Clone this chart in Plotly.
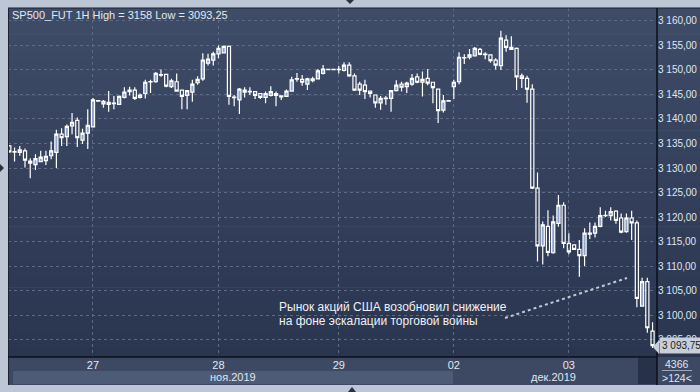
import plotly.graph_objects as go

# ---------------- data ----------------
candle_index = list(range(124))
open_ = [3134.5, 3133.35, 3133.2, 3133.5, 3131.4, 3130.7, 3131.3, 3131.5, 3132.5, 3133.2,
         3136.9, 3136.4, 3138.6, 3139.7, 3135.7, 3137.1, 3138.4, 3143.75, 3143.6, 3143.4,
         3143.25, 3143.0, 3144.4, 3145.6, 3145.9, 3144.4, 3145.2, 3147.65, 3147.6, 3149.05,
         3149.1, 3146.6, 3147.6, 3145.9, 3144.8, 3145.5, 3147.4, 3148.2, 3151.4, 3152.0,
         3153.3, 3153.5, 3154.8, 3144.45, 3143.9, 3145.5, 3145.65, 3145.6, 3145.2, 3144.4,
         3144.8, 3145.2, 3144.7, 3144.6, 3145.7, 3148.25, 3148.1, 3147.1, 3147.8, 3148.2,
         3149.3, 3150.15, 3150.15, 3150.15, 3149.9, 3151.0, 3148.8, 3147.1, 3146.9, 3145.7,
         3144.9, 3143.3, 3144.25, 3144.2, 3145.8, 3147.1, 3146.6, 3147.1, 3148.6, 3147.5,
         3148.3, 3147.5, 3146.1, 3141.8, 3143.75, 3146.6, 3147.6, 3152.55, 3152.6, 3152.9,
         3154.2, 3153.25, 3153.1, 3152.0, 3150.9, 3156.1, 3154.6, 3154.4, 3148.8, 3148.3,
         3146.1, 3125.9, 3114.1, 3118.1, 3112.7, 3118.7, 3122.4, 3114.6, 3114.3, 3113.4,
         3112.1, 3116.7, 3116.7, 3118.1, 3120.35, 3120.3, 3121.2, 3119.8, 3117.0, 3119.8,
         3118.8, 3101.8, 3106.8, 3096.7]
high = [3134.7, 3134.2, 3134.5, 3134.0, 3132.0, 3132.8, 3133.5, 3133.5, 3135.4, 3137.8,
        3138.1, 3138.9, 3141.2, 3140.3, 3138.0, 3142.0, 3144.3, 3143.8, 3143.9, 3145.7,
        3144.7, 3144.8, 3146.5, 3146.6, 3146.5, 3145.2, 3148.0, 3148.0, 3149.6, 3150.1,
        3149.1, 3148.2, 3149.3, 3145.9, 3145.9, 3148.0, 3148.7, 3153.4, 3153.3, 3153.7,
        3155.0, 3155.0, 3155.0, 3144.9, 3146.3, 3146.5, 3146.5, 3145.6, 3145.2, 3145.6,
        3146.7, 3145.6, 3144.7, 3146.0, 3148.6, 3149.4, 3149.0, 3148.4, 3148.6, 3150.2,
        3151.0, 3150.2, 3150.2, 3150.8, 3151.6, 3151.6, 3149.3, 3147.6, 3148.0, 3145.7,
        3144.9, 3144.7, 3144.7, 3145.9, 3147.9, 3147.6, 3147.6, 3149.2, 3149.3, 3149.7,
        3150.2, 3147.6, 3146.1, 3144.9, 3143.8, 3148.0, 3153.6, 3153.2, 3154.3, 3154.7,
        3154.5, 3153.6, 3153.1, 3152.4, 3158.0, 3157.1, 3156.9, 3154.6, 3149.3, 3148.8,
        3147.1, 3129.1, 3119.1, 3121.4, 3120.3, 3124.5, 3123.0, 3116.7, 3114.4, 3115.3,
        3117.7, 3118.9, 3118.9, 3122.0, 3121.3, 3122.0, 3121.4, 3120.7, 3120.7, 3121.3,
        3119.3, 3107.6, 3107.6, 3098.5]
low = [3133.1, 3131.3, 3132.5, 3130.1, 3127.9, 3129.6, 3131.2, 3130.6, 3131.8, 3130.0,
       3134.5, 3134.5, 3136.9, 3134.3, 3134.9, 3133.9, 3138.3, 3143.6, 3142.3, 3141.5,
       3142.0, 3142.9, 3144.2, 3144.8, 3143.9, 3144.2, 3144.2, 3145.3, 3147.4, 3148.6,
       3146.5, 3146.3, 3145.6, 3142.0, 3142.0, 3143.5, 3147.0, 3147.8, 3150.9, 3150.9,
       3152.4, 3153.4, 3142.9, 3142.6, 3141.0, 3144.4, 3144.9, 3144.1, 3144.1, 3143.2,
       3144.6, 3142.6, 3143.9, 3144.5, 3145.6, 3147.6, 3146.8, 3145.9, 3147.5, 3148.1,
       3149.1, 3150.0, 3150.0, 3149.3, 3149.7, 3148.6, 3145.7, 3144.9, 3144.1, 3144.4,
       3142.3, 3141.9, 3142.9, 3141.5, 3145.6, 3145.6, 3145.3, 3146.8, 3147.3, 3144.6,
       3146.9, 3143.2, 3139.2, 3141.3, 3143.6, 3144.1, 3147.1, 3151.2, 3152.2, 3152.8,
       3153.0, 3152.2, 3151.5, 3150.1, 3150.0, 3153.7, 3154.2, 3145.9, 3146.3, 3143.3,
       3125.7, 3110.9, 3110.3, 3112.0, 3112.5, 3118.0, 3113.6, 3112.4, 3113.3, 3107.8,
       3110.0, 3115.5, 3115.8, 3117.9, 3120.0, 3119.3, 3118.6, 3116.7, 3116.8, 3115.3,
       3101.6, 3101.8, 3096.4, 3093.25]
close = [3133.3, 3133.25, 3133.7, 3131.6, 3131.0, 3131.9, 3132.2, 3132.4, 3133.5, 3136.9,
         3136.2, 3138.5, 3139.3, 3136.2, 3137.1, 3138.7, 3143.9, 3143.65, 3143.1, 3143.0,
         3143.15, 3144.6, 3145.5, 3145.9, 3144.2, 3144.9, 3147.5, 3147.55, 3149.3, 3148.95,
         3146.7, 3147.8, 3145.7, 3144.6, 3145.8, 3147.1, 3148.1, 3152.0, 3152.2, 3153.3,
         3154.4, 3154.8, 3144.6, 3144.35, 3146.1, 3145.9, 3145.55, 3144.8, 3144.4, 3145.2,
         3145.6, 3144.8, 3144.5, 3145.7, 3148.0, 3148.15, 3147.5, 3148.2, 3148.2, 3149.8,
         3150.2, 3150.05, 3150.05, 3150.05, 3151.0, 3148.8, 3145.9, 3145.9, 3145.6, 3145.2,
         3143.3, 3144.2, 3144.15, 3145.8, 3146.9, 3146.5, 3147.3, 3148.3, 3147.5, 3148.1,
         3147.3, 3146.4, 3141.7, 3143.7, 3143.65, 3147.5, 3152.6, 3152.45, 3153.1, 3154.4,
         3153.2, 3153.15, 3151.9, 3151.0, 3156.5, 3154.6, 3154.2, 3148.6, 3148.3, 3146.1,
         3125.9, 3114.1, 3118.4, 3112.8, 3119.0, 3122.4, 3114.6, 3112.9, 3113.4, 3112.1,
         3116.7, 3116.5, 3118.1, 3120.3, 3120.25, 3121.1, 3119.3, 3116.9, 3119.8, 3118.8,
         3103.4, 3106.8, 3097.4, 3093.75]

day_tick_index = [16, 40, 63, 85, 107]
day_tick_labels = ["27", "28", "29", "02", "03"]
price_ticks = [3095, 3100, 3105, 3110, 3115, 3120, 3125, 3130, 3135, 3140, 3145, 3150, 3155, 3160]
price_tick_labels = ["3 095,00", "3 100,00", "3 105,00", "3 110,00", "3 115,00", "3 120,00",
                     "3 125,00", "3 130,00", "3 135,00", "3 140,00", "3 145,00", "3 150,00",
                     "3 155,00", "3 160,00"]
month_labels = ["ноя.2019", "дек.2019"]
title_text = "SP500_FUT 1H High = 3158 Low = 3093,25"
note_lines = ["Рынок акций США возобновил снижение", "на фоне эскалации торговой войны"]
last_price_label = "3 093,75"
last_price = 3093.75

# ---------------- layout geometry (pixels) ----------------
W, H = 700, 392
L, R, T, B = 8, 43, 8, 35
PW, PH = W - L - R, H - T - B


def xp(px):
    return (px - L) / PW


def yp(py):
    return (H - B - py) / PH


def hexmix(c1, c2, t):
    a = [int(c1[i:i + 2], 16) for i in (1, 3, 5)]
    b = [int(c2[i:i + 2], 16) for i in (1, 3, 5)]
    return "#%02x%02x%02x" % tuple(round(a[k] + (b[k] - a[k]) * t) for k in range(3))


shapes = []
# gradient background of plot + right scale
n = 40
top_c, bot_c = "#3f4c67", "#2a3550"
for i in range(n):
    y0 = T + (PH) * i / n
    y1 = T + (PH) * (i + 1) / n + 0.6
    shapes.append(dict(type="rect", xref="paper", yref="paper", x0=xp(L), x1=xp(W),
                       y0=yp(y1), y1=yp(y0), fillcolor=hexmix(top_c, bot_c, i / (n - 1)),
                       line_width=0, layer="below"))
# x-axis panel
shapes.append(dict(type="rect", xref="paper", yref="paper", x0=xp(L), x1=xp(W), y0=yp(385), y1=yp(357),
                   fillcolor="#3d4962", line_width=0, layer="below"))
shapes.append(dict(type="rect", xref="paper", yref="paper", x0=xp(13), x1=xp(453), y0=yp(384), y1=yp(371),
                   fillcolor="#4e5b76", line_width=0, layer="below"))
shapes.append(dict(type="rect", xref="paper", yref="paper", x0=xp(638), x1=xp(657), y0=yp(384), y1=yp(358),
                   fillcolor="#27314a", line_width=0, layer="below"))
# dark borders
shapes.append(dict(type="line", xref="paper", yref="paper", x0=xp(L), x1=xp(W), y0=yp(8), y1=yp(8),
                   line=dict(color="#1c2233", width=1)))
shapes.append(dict(type="line", xref="paper", yref="paper", x0=xp(8.5), x1=xp(8.5), y0=yp(385), y1=yp(8),
                   line=dict(color="#1c2233", width=1)))
shapes.append(dict(type="line", xref="paper", yref="paper", x0=xp(L), x1=xp(657), y0=yp(357), y1=yp(357),
                   line=dict(color="#0c0f18", width=1.5)))
shapes.append(dict(type="line", xref="paper", yref="paper", x0=xp(657), x1=xp(657), y0=yp(385), y1=yp(8),
                   line=dict(color="#0c0f18", width=1.5)))
# separator in bottom-right counter
shapes.append(dict(type="line", xref="paper", yref="paper", x0=xp(662), x1=xp(692), y0=yp(370.5), y1=yp(370.5),
                   line=dict(color="#9aa6ba", width=1)))
# dotted pointer line
shapes.append(dict(type="line", xref="paper", yref="paper", x0=xp(505), x1=xp(627), y0=yp(318), y1=yp(278),
                   line=dict(color="#c3c8d2", width=2, dash="dot")))
# last price tag arrow
shapes.append(dict(type="path", xref="paper", yref="paper",
                   path="M {} {} L {} {} L {} {} Z".format(xp(653), yp(347), xp(659), yp(340), xp(659), yp(354)),
                   fillcolor="#c9ced7", line_width=0))
# frame decoration triangles
shapes.append(dict(type="path", xref="paper", yref="paper",
                   path="M {} {} L {} {} L {} {} Z".format(xp(346), yp(0), xp(354), yp(0), xp(350), yp(4)),
                   fillcolor="#2a303f", line_width=0))
shapes.append(dict(type="path", xref="paper", yref="paper",
                   path="M {} {} L {} {} L {} {} Z".format(xp(348), yp(392), xp(356), yp(392), xp(352), yp(387)),
                   fillcolor="#2a303f", line_width=0))
shapes.append(dict(type="path", xref="paper", yref="paper",
                   path="M {} {} L {} {} L {} {} Z".format(xp(0), yp(164), xp(0), yp(172), xp(4), yp(168)),
                   fillcolor="#2a303f", line_width=0))

fig = go.Figure()
fig.add_trace(go.Candlestick(
    x=candle_index, open=open_, high=high, low=low, close=close,
    increasing=dict(line=dict(color="#ffffff", width=1.2), fillcolor="#8fa5cf"),
    decreasing=dict(line=dict(color="#ffffff", width=1.2), fillcolor="rgba(0,0,0,0)"),
    whiskerwidth=0, showlegend=False, hoverinfo="skip"))

font_main = "Liberation Sans, Arial, sans-serif"
annotations = [
    dict(text=title_text, xref="paper", yref="paper", x=xp(10), y=yp(15), xanchor="left", yanchor="middle",
         showarrow=False, font=dict(family=font_main, size=11, color="#e3e8f1")),
    dict(text=note_lines[0], xref="paper", yref="paper", x=xp(277), y=yp(307), xanchor="left", yanchor="middle",
         showarrow=False, font=dict(family=font_main, size=12, color="#eef1f6")),
    dict(text=note_lines[1], xref="paper", yref="paper", x=xp(277), y=yp(321), xanchor="left", yanchor="middle",
         showarrow=False, font=dict(family=font_main, size=12, color="#eef1f6")),
    dict(text=month_labels[0], xref="paper", yref="paper", x=xp(233), y=yp(377), xanchor="center", yanchor="middle",
         showarrow=False, font=dict(family=font_main, size=11, color="#dfe6f1")),
    dict(text=month_labels[1], xref="paper", yref="paper", x=xp(553), y=yp(377), xanchor="center", yanchor="middle",
         showarrow=False, font=dict(family=font_main, size=11, color="#dfe6f1")),
    dict(text="4366", xref="paper", yref="paper", x=xp(677), y=yp(363.5), xanchor="center", yanchor="middle",
         showarrow=False, font=dict(family=font_main, size=10.5, color="#dfe6f1")),
    dict(text="&gt;124&lt;", xref="paper", yref="paper", x=xp(677), y=yp(377.5), xanchor="center", yanchor="middle",
         showarrow=False, font=dict(family=font_main, size=10.5, color="#dfe6f1")),
    dict(text=last_price_label, xref="paper", yref="y", x=xp(658.5), y=last_price, xanchor="left", yanchor="middle",
         showarrow=False, bgcolor="#c9ced7", borderpad=2,
         font=dict(family=font_main, size=10, color="#1a1d24")),
]

fig.update_layout(
    width=W, height=H, margin=dict(l=L, r=R, t=T, b=B, autoexpand=False),
    paper_bgcolor="#bcc6d4", plot_bgcolor="rgba(0,0,0,0)", boxgap=0.15,
    shapes=shapes, annotations=annotations, showlegend=False,
    xaxis=dict(range=[-0.25, 123.85], rangeslider=dict(visible=False), tickvals=day_tick_index,
               ticktext=day_tick_labels, showgrid=True, gridcolor="#5d6b86", griddash="3px,3px", gridwidth=1,
               zeroline=False, showline=False, ticks="", automargin=False,
               tickfont=dict(family=font_main, size=11, color="#e3e8f1")),
    yaxis=dict(range=[3091.43, 3162.65], side="right", tickvals=price_ticks, ticktext=price_tick_labels,
               showgrid=True, gridcolor="#5d6b86", griddash="3px,3px", gridwidth=1, zeroline=False,
               showline=False, ticks="", ticklabelstandoff=0, automargin=False,
               tickfont=dict(family=font_main, size=10, color="#dfe6f1")),
)

fig.write_html("out.html")
